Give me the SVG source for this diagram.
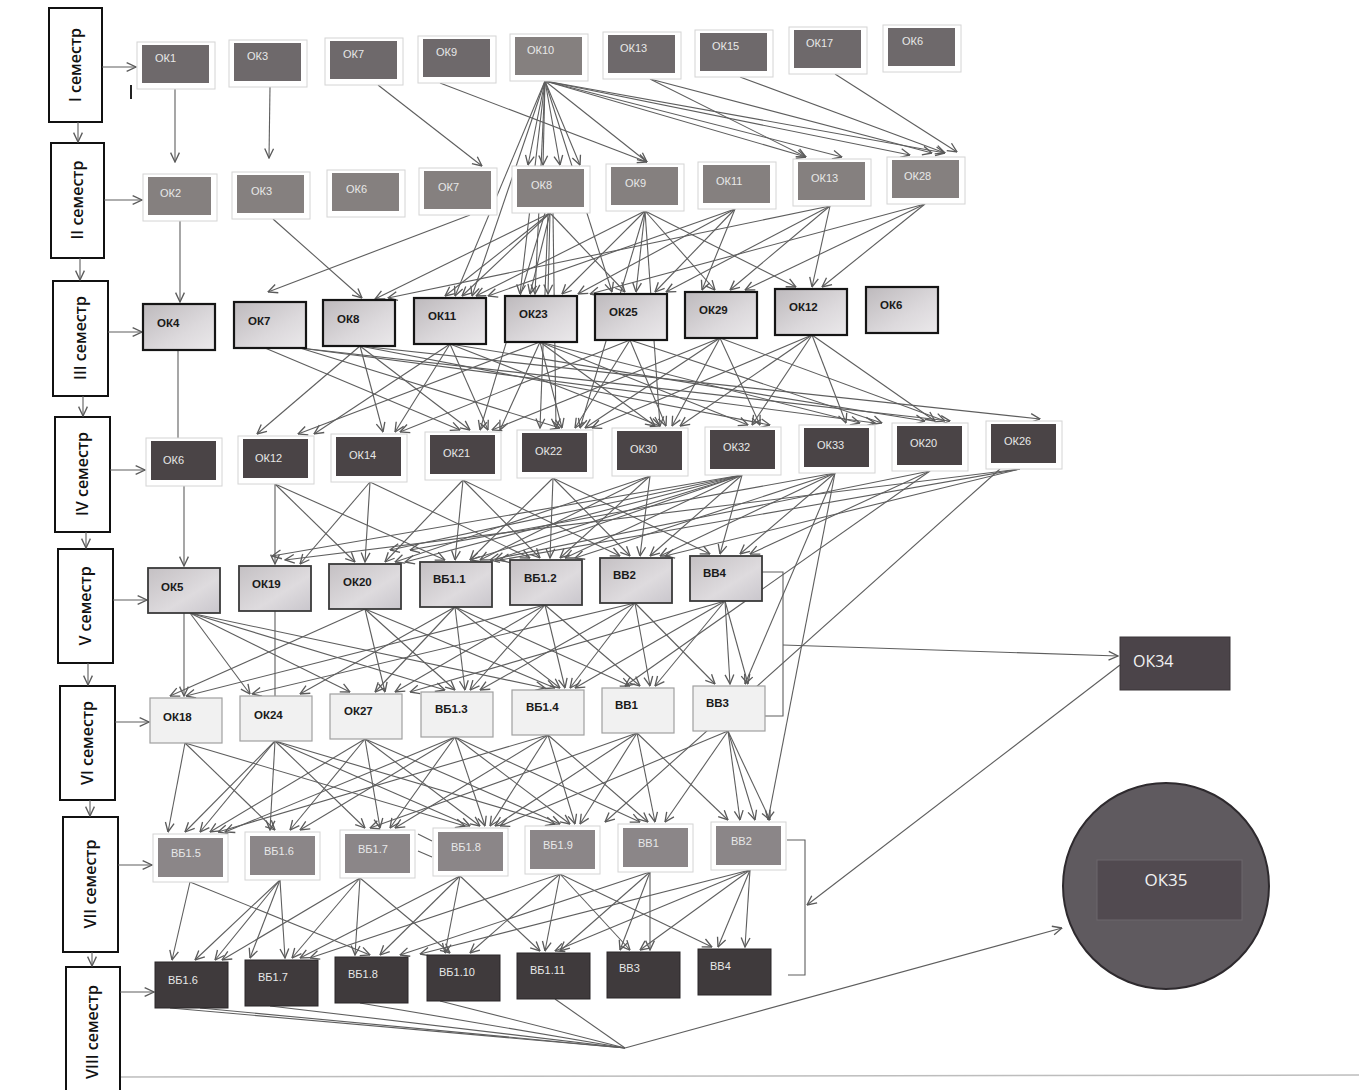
<svg xmlns="http://www.w3.org/2000/svg" width="1359" height="1090" viewBox="0 0 1359 1090">
<defs>
<marker id="a" viewBox="0 0 10 10" refX="9.5" refY="5" markerWidth="11" markerHeight="11" orient="auto" markerUnits="userSpaceOnUse"><path d="M1,1 L9.5,5 L1,9" fill="none" stroke="#5a5a5a" stroke-width="1.2"/></marker>
<linearGradient id="g3" x1="0" y1="0" x2="1" y2="1"><stop offset="0" stop-color="#bdb9bc"/><stop offset="0.6" stop-color="#dcd9dc"/><stop offset="1" stop-color="#ebe9eb"/></linearGradient>
<linearGradient id="g5" x1="0" y1="0" x2="1" y2="1"><stop offset="0" stop-color="#c4c0c3"/><stop offset="0.6" stop-color="#dedbde"/><stop offset="1" stop-color="#c9c6cc"/></linearGradient>
</defs>
<style>
.sem{fill:#fff;stroke:#111;stroke-width:2}
.st{font-family:"Open Sans","Liberation Sans",sans-serif;font-size:16px;font-weight:600;fill:#111}
.fr{fill:#fff;stroke:#d4d4d4;stroke-width:1}
.i1{fill:#6e696b}
.i2{fill:#85807f}
.r3{fill:url(#g3);stroke:#151515;stroke-width:2.2}
.i4{fill:#4a4446}
.r5{fill:url(#g5);stroke:#3a3a3a;stroke-width:1.8}
.r6{fill:#f1f1f1;stroke:#a0a0a0;stroke-width:1.2}
.i7{fill:#8b8688}
.r8{fill:#3f3a3c;stroke:#2a2628;stroke-width:1}
.lw{font-family:"Liberation Sans",sans-serif;font-size:11px;fill:#e8e8e8}
.lb{font-family:"Liberation Sans",sans-serif;font-size:11.5px;font-weight:bold;fill:#1a1a1a}
.c line{stroke:#5e5e5e;stroke-width:1.1;marker-end:url(#a)}
.c line.n{marker-end:none}
.c path{fill:none;stroke:#5e5e5e;stroke-width:1.1}
</style>
<rect width="1359" height="1090" fill="#fff"/>
<line x1="120" y1="1077" x2="1359" y2="1075" stroke="#bdbdbd" stroke-width="1.5"/>
<line x1="131" y1="85" x2="131" y2="99" stroke="#222" stroke-width="2"/>

<g id="semesters">
<g id="sem1"><rect class="sem" x="49" y="8" width="53" height="114"/><text class="st" transform="translate(81,65) rotate(-90)" text-anchor="middle">I семестр</text></g>
<g id="sem2"><rect class="sem" x="51" y="143" width="53" height="115"/><text class="st" transform="translate(83,200) rotate(-90)" text-anchor="middle">II семестр</text></g>
<g id="sem3"><rect class="sem" x="53" y="281" width="55" height="115"/><text class="st" transform="translate(86,338) rotate(-90)" text-anchor="middle">III семестр</text></g>
<g id="sem4"><rect class="sem" x="55" y="417" width="55" height="115"/><text class="st" transform="translate(88,474) rotate(-90)" text-anchor="middle">IV семестр</text></g>
<g id="sem5"><rect class="sem" x="58" y="549" width="55" height="114"/><text class="st" transform="translate(91,606) rotate(-90)" text-anchor="middle">V семестр</text></g>
<g id="sem6"><rect class="sem" x="60" y="686" width="55" height="114"/><text class="st" transform="translate(93,743) rotate(-90)" text-anchor="middle">VI семестр</text></g>
<g id="sem7"><rect class="sem" x="63" y="817" width="55" height="135"/><text class="st" transform="translate(96,884) rotate(-90)" text-anchor="middle">VII семестр</text></g>
<g id="sem8"><rect class="sem" x="66" y="967" width="54" height="130"/><text class="st" transform="translate(98,1032) rotate(-90)" text-anchor="middle">VIII семестр</text></g>
</g>

<g id="connectors" class="c">
<line x1="102" y1="67" x2="136" y2="67"/>
<line x1="78" y1="122" x2="78" y2="142"/>
<line x1="104" y1="200" x2="142" y2="200"/>
<line x1="80" y1="258" x2="80" y2="280"/>
<line x1="108" y1="332" x2="142" y2="332"/>
<line x1="83" y1="396" x2="83" y2="416"/>
<line x1="110" y1="470" x2="145" y2="470"/>
<line x1="86" y1="532" x2="86" y2="548"/>
<line x1="113" y1="600" x2="147" y2="600"/>
<line x1="88" y1="663" x2="88" y2="685"/>
<line x1="115" y1="722" x2="149" y2="722"/>
<line x1="90" y1="800" x2="90" y2="816"/>
<line x1="118" y1="865" x2="152" y2="865"/>
<line x1="92" y1="952" x2="92" y2="966"/>
<line x1="120" y1="992" x2="154" y2="992"/>

<line x1="175" y1="89" x2="175" y2="162"/>
<line x1="270" y1="87" x2="269" y2="158"/>
<line x1="378" y1="85" x2="482" y2="166"/>
<line x1="440" y1="83" x2="647" y2="162"/>
<line x1="545" y1="81" x2="647" y2="162"/>
<line x1="545" y1="81" x2="806" y2="157"/>
<line x1="545" y1="81" x2="842" y2="157"/>
<line x1="545" y1="81" x2="910" y2="155"/>
<line x1="545" y1="81" x2="945" y2="153"/>
<line x1="545" y1="81" x2="528" y2="165"/>
<line x1="545" y1="81" x2="543" y2="165"/>
<line x1="545" y1="81" x2="560" y2="165"/>
<line x1="545" y1="81" x2="580" y2="165"/>
<line x1="545" y1="81" x2="455" y2="296"/>
<line x1="545" y1="81" x2="472" y2="296"/>
<line x1="545" y1="81" x2="520" y2="294"/>
<line x1="545" y1="81" x2="535" y2="294"/>
<line x1="545" y1="81" x2="612" y2="292"/>
<line x1="650" y1="79" x2="806" y2="157"/>
<line x1="650" y1="79" x2="932" y2="153"/>
<line x1="740" y1="77" x2="945" y2="153"/>
<line x1="835" y1="74" x2="957" y2="152"/>

<line x1="180" y1="221" x2="180" y2="302"/>
<line x1="273" y1="219" x2="362" y2="298"/>
<line x1="470" y1="215" x2="268" y2="292"/>
<line x1="550" y1="213" x2="445" y2="296"/>
<line x1="550" y1="213" x2="462" y2="296"/>
<line x1="550" y1="213" x2="530" y2="294"/>
<line x1="550" y1="213" x2="548" y2="294"/>
<line x1="550" y1="213" x2="625" y2="292"/>
<line x1="550" y1="213" x2="375" y2="299"/>
<line x1="545" y1="213" x2="480" y2="430"/>
<line x1="548" y1="213" x2="540" y2="428"/>
<line x1="553" y1="213" x2="556" y2="428"/>
<line x1="645" y1="211" x2="476" y2="296"/>
<line x1="645" y1="211" x2="562" y2="294"/>
<line x1="645" y1="211" x2="636" y2="292"/>
<line x1="645" y1="211" x2="715" y2="290"/>
<line x1="645" y1="211" x2="796" y2="287"/>
<line x1="645" y1="211" x2="660" y2="426"/>
<line x1="645" y1="211" x2="580" y2="428"/>
<line x1="735" y1="209" x2="702" y2="290"/>
<line x1="735" y1="209" x2="655" y2="292"/>
<line x1="735" y1="209" x2="578" y2="294"/>
<line x1="735" y1="209" x2="488" y2="296"/>
<line x1="830" y1="206" x2="730" y2="290"/>
<line x1="830" y1="206" x2="812" y2="287"/>
<line x1="830" y1="206" x2="388" y2="298"/>
<line x1="830" y1="206" x2="666" y2="292"/>
<line x1="925" y1="204" x2="822" y2="287"/>
<line x1="925" y1="204" x2="745" y2="290"/>
<line x1="925" y1="204" x2="590" y2="294"/>

<line class="n" x1="178" y1="350" x2="178" y2="438"/>
<line x1="265" y1="348" x2="460" y2="430"/>
<line x1="300" y1="348" x2="875" y2="423"/>
<line x1="300" y1="348" x2="560" y2="428"/>
<line x1="300" y1="348" x2="950" y2="421"/>
<line x1="360" y1="346" x2="257" y2="434"/>
<line x1="360" y1="346" x2="383" y2="432"/>
<line x1="360" y1="346" x2="470" y2="430"/>
<line x1="360" y1="346" x2="1040" y2="419"/>
<line x1="360" y1="346" x2="770" y2="425"/>
<line x1="450" y1="344" x2="314" y2="434"/>
<line x1="450" y1="344" x2="395" y2="432"/>
<line x1="450" y1="344" x2="488" y2="430"/>
<line x1="450" y1="344" x2="660" y2="426"/>
<line x1="450" y1="344" x2="925" y2="421"/>
<line x1="540" y1="342" x2="298" y2="434"/>
<line x1="540" y1="342" x2="500" y2="430"/>
<line x1="540" y1="342" x2="562" y2="428"/>
<line x1="540" y1="342" x2="655" y2="426"/>
<line x1="540" y1="342" x2="748" y2="425"/>
<line x1="540" y1="342" x2="860" y2="423"/>
<line x1="630" y1="340" x2="400" y2="432"/>
<line x1="630" y1="340" x2="575" y2="428"/>
<line x1="630" y1="340" x2="666" y2="426"/>
<line x1="630" y1="340" x2="882" y2="423"/>
<line x1="720" y1="338" x2="492" y2="430"/>
<line x1="720" y1="338" x2="585" y2="428"/>
<line x1="720" y1="338" x2="672" y2="426"/>
<line x1="720" y1="338" x2="760" y2="425"/>
<line x1="720" y1="338" x2="945" y2="421"/>
<line x1="812" y1="335" x2="592" y2="428"/>
<line x1="812" y1="335" x2="680" y2="426"/>
<line x1="812" y1="335" x2="752" y2="425"/>
<line x1="812" y1="335" x2="846" y2="423"/>
<line x1="812" y1="335" x2="935" y2="421"/>

<line x1="184" y1="486" x2="184" y2="566"/>
<line x1="275" y1="484" x2="275" y2="564"/>
<line x1="275" y1="484" x2="355" y2="562"/>
<line x1="275" y1="484" x2="445" y2="560"/>
<line x1="370" y1="482" x2="300" y2="564"/>
<line x1="370" y1="482" x2="365" y2="562"/>
<line x1="370" y1="482" x2="530" y2="558"/>
<line x1="463" y1="480" x2="455" y2="560"/>
<line x1="463" y1="480" x2="540" y2="558"/>
<line x1="463" y1="480" x2="385" y2="562"/>
<line x1="463" y1="480" x2="620" y2="556"/>
<line x1="553" y1="478" x2="470" y2="560"/>
<line x1="553" y1="478" x2="550" y2="558"/>
<line x1="553" y1="478" x2="630" y2="556"/>
<line x1="553" y1="478" x2="710" y2="554"/>
<line x1="650" y1="476" x2="560" y2="558"/>
<line x1="650" y1="476" x2="640" y2="556"/>
<line x1="650" y1="476" x2="480" y2="560"/>
<line x1="650" y1="476" x2="395" y2="562"/>
<line x1="742" y1="475" x2="272" y2="556"/>
<line x1="742" y1="475" x2="390" y2="550"/>
<line x1="742" y1="475" x2="470" y2="560"/>
<line x1="742" y1="475" x2="565" y2="558"/>
<line x1="742" y1="475" x2="650" y2="556"/>
<line x1="742" y1="475" x2="720" y2="554"/>
<line x1="742" y1="475" x2="405" y2="562"/>
<line x1="742" y1="475" x2="495" y2="560"/>
<line x1="835" y1="473" x2="740" y2="554"/>
<line x1="835" y1="473" x2="660" y2="556"/>
<line x1="835" y1="473" x2="575" y2="558"/>
<line x1="835" y1="473" x2="410" y2="550"/>
<line x1="835" y1="473" x2="745" y2="684"/>
<line x1="835" y1="473" x2="768" y2="820"/>
<line x1="930" y1="471" x2="750" y2="554"/>
<line x1="930" y1="471" x2="490" y2="560"/>
<line x1="930" y1="471" x2="625" y2="686"/>
<line x1="1020" y1="469" x2="285" y2="560"/>
<line x1="1020" y1="469" x2="500" y2="560"/>
<line x1="1020" y1="469" x2="665" y2="556"/>
<line x1="1000" y1="469" x2="605" y2="822"/>

<line x1="184" y1="613" x2="184" y2="696"/>
<line x1="190" y1="613" x2="250" y2="694"/>
<line x1="190" y1="613" x2="350" y2="692"/>
<line x1="190" y1="613" x2="445" y2="690"/>
<line x1="190" y1="613" x2="545" y2="688"/>
<line class="n" x1="275" y1="611" x2="275" y2="696"/>
<line x1="365" y1="609" x2="170" y2="696"/>
<line x1="365" y1="609" x2="385" y2="692"/>
<line x1="365" y1="609" x2="455" y2="690"/>
<line x1="365" y1="609" x2="555" y2="688"/>
<line x1="455" y1="607" x2="300" y2="694"/>
<line x1="455" y1="607" x2="375" y2="692"/>
<line x1="455" y1="607" x2="465" y2="690"/>
<line x1="455" y1="607" x2="560" y2="688"/>
<line x1="455" y1="607" x2="630" y2="686"/>
<line x1="545" y1="605" x2="395" y2="692"/>
<line x1="545" y1="605" x2="470" y2="690"/>
<line x1="545" y1="605" x2="565" y2="688"/>
<line x1="545" y1="605" x2="640" y2="686"/>
<line x1="545" y1="605" x2="186" y2="696"/>
<line x1="635" y1="603" x2="480" y2="690"/>
<line x1="635" y1="603" x2="570" y2="688"/>
<line x1="635" y1="603" x2="650" y2="686"/>
<line x1="635" y1="603" x2="715" y2="684"/>
<line x1="635" y1="603" x2="252" y2="694"/>
<line x1="725" y1="601" x2="655" y2="686"/>
<line x1="725" y1="601" x2="730" y2="684"/>
<line x1="725" y1="601" x2="575" y2="688"/>
<line x1="725" y1="601" x2="748" y2="684"/>
<line x1="725" y1="601" x2="410" y2="692"/>

<line x1="185" y1="743" x2="168" y2="832"/>
<line x1="185" y1="743" x2="275" y2="830"/>
<line x1="185" y1="743" x2="465" y2="826"/>
<line x1="275" y1="741" x2="185" y2="832"/>
<line x1="275" y1="741" x2="200" y2="832"/>
<line x1="275" y1="741" x2="270" y2="830"/>
<line x1="275" y1="741" x2="365" y2="828"/>
<line x1="275" y1="741" x2="470" y2="826"/>
<line x1="275" y1="741" x2="555" y2="824"/>
<line x1="365" y1="739" x2="210" y2="832"/>
<line x1="365" y1="739" x2="290" y2="830"/>
<line x1="365" y1="739" x2="380" y2="828"/>
<line x1="365" y1="739" x2="480" y2="826"/>
<line x1="365" y1="739" x2="560" y2="824"/>
<line x1="455" y1="737" x2="300" y2="830"/>
<line x1="455" y1="737" x2="390" y2="828"/>
<line x1="455" y1="737" x2="485" y2="826"/>
<line x1="455" y1="737" x2="570" y2="824"/>
<line x1="455" y1="737" x2="640" y2="822"/>
<line x1="455" y1="737" x2="225" y2="832"/>
<line x1="548" y1="735" x2="395" y2="828"/>
<line x1="548" y1="735" x2="490" y2="826"/>
<line x1="548" y1="735" x2="575" y2="824"/>
<line x1="548" y1="735" x2="648" y2="822"/>
<line x1="548" y1="735" x2="218" y2="832"/>
<line x1="637" y1="733" x2="495" y2="826"/>
<line x1="637" y1="733" x2="580" y2="824"/>
<line x1="637" y1="733" x2="655" y2="822"/>
<line x1="637" y1="733" x2="728" y2="820"/>
<line x1="637" y1="733" x2="370" y2="828"/>
<line x1="728" y1="731" x2="665" y2="822"/>
<line x1="728" y1="731" x2="740" y2="820"/>
<line x1="728" y1="731" x2="755" y2="820"/>
<line x1="728" y1="731" x2="770" y2="820"/>
<line x1="728" y1="731" x2="500" y2="826"/>

<line x1="190" y1="882" x2="172" y2="960"/>
<line x1="190" y1="882" x2="370" y2="955"/>
<line x1="280" y1="880" x2="195" y2="960"/>
<line x1="280" y1="880" x2="215" y2="960"/>
<line x1="280" y1="880" x2="250" y2="958"/>
<line x1="280" y1="880" x2="285" y2="958"/>
<line x1="360" y1="878" x2="355" y2="955"/>
<line x1="360" y1="878" x2="292" y2="958"/>
<line x1="360" y1="878" x2="450" y2="953"/>
<line x1="360" y1="878" x2="222" y2="960"/>
<line x1="460" y1="876" x2="445" y2="953"/>
<line x1="460" y1="876" x2="300" y2="958"/>
<line x1="460" y1="876" x2="380" y2="955"/>
<line x1="460" y1="876" x2="540" y2="951"/>
<line x1="560" y1="874" x2="470" y2="953"/>
<line x1="560" y1="874" x2="545" y2="951"/>
<line x1="560" y1="874" x2="630" y2="950"/>
<line x1="560" y1="874" x2="712" y2="947"/>
<line x1="560" y1="874" x2="310" y2="958"/>
<line x1="650" y1="872" x2="560" y2="951"/>
<line x1="650" y1="872" x2="620" y2="950"/>
<line x1="650" y1="872" x2="650" y2="950"/>
<line x1="650" y1="872" x2="400" y2="955"/>
<line x1="750" y1="870" x2="718" y2="947"/>
<line x1="750" y1="870" x2="745" y2="947"/>
<line x1="750" y1="870" x2="555" y2="951"/>
<line x1="750" y1="870" x2="640" y2="950"/>
<line x1="750" y1="870" x2="420" y2="954"/>

<line class="n" x1="418" y1="834" x2="432" y2="841"/>
<line class="n" x1="418" y1="851" x2="432" y2="857"/>

<line class="n" x1="170" y1="1008" x2="625" y2="1048"/>
<line class="n" x1="200" y1="1008" x2="625" y2="1048"/>
<line class="n" x1="270" y1="1006" x2="625" y2="1048"/>
<line class="n" x1="360" y1="1003" x2="625" y2="1048"/>
<line class="n" x1="440" y1="1001" x2="625" y2="1048"/>
<line class="n" x1="555" y1="999" x2="625" y2="1048"/>
<line x1="625" y1="1048" x2="1062" y2="928"/>

<path d="M762,572 L783,572 L783,716 L765,716"/>
<line x1="783" y1="645" x2="1118" y2="656"/>
<path d="M787,840 L805,840 L805,975 L788,975"/>
<line x1="1120" y1="665" x2="807" y2="905"/>
</g>

<g id="row1">
<g id="r1-ok1"><rect class="fr" x="137" y="42" width="78" height="47"/><rect class="i1" x="142" y="45" width="67" height="38"/><text class="lw" x="155" y="62">ОК1</text></g>
<g id="r1-ok3"><rect class="fr" x="229" y="40" width="78" height="47"/><rect class="i1" x="234" y="43" width="67" height="38"/><text class="lw" x="247" y="60">ОК3</text></g>
<g id="r1-ok7"><rect class="fr" x="325" y="38" width="78" height="47"/><rect class="i1" x="330" y="41" width="67" height="38"/><text class="lw" x="343" y="58">ОК7</text></g>
<g id="r1-ok9"><rect class="fr" x="418" y="36" width="78" height="47"/><rect class="i1" x="423" y="39" width="67" height="38"/><text class="lw" x="436" y="56">ОК9</text></g>
<g id="r1-ok10"><rect class="fr" x="510" y="34" width="78" height="47"/><rect class="i2" x="515" y="37" width="67" height="38"/><text class="lw" x="527" y="54">ОК10</text></g>
<g id="r1-ok13"><rect class="fr" x="603" y="32" width="78" height="47"/><rect class="i1" x="608" y="35" width="67" height="38"/><text class="lw" x="620" y="52">ОК13</text></g>
<g id="r1-ok15"><rect class="fr" x="695" y="30" width="78" height="47"/><rect class="i1" x="700" y="33" width="67" height="38"/><text class="lw" x="712" y="50">ОК15</text></g>
<g id="r1-ok17"><rect class="fr" x="789" y="27" width="78" height="47"/><rect class="i1" x="794" y="30" width="67" height="38"/><text class="lw" x="806" y="47">ОК17</text></g>
<g id="r1-ok6"><rect class="fr" x="883" y="25" width="78" height="47"/><rect class="i1" x="888" y="28" width="67" height="38"/><text class="lw" x="902" y="45">ОК6</text></g>
</g>

<g id="row2">
<g id="r2-ok2"><rect class="fr" x="143" y="174" width="74" height="47"/><rect class="i2" x="148" y="177" width="63" height="38"/><text class="lw" x="160" y="197">ОК2</text></g>
<g id="r2-ok3"><rect class="fr" x="232" y="172" width="78" height="47"/><rect class="i2" x="237" y="175" width="67" height="38"/><text class="lw" x="251" y="195">ОК3</text></g>
<g id="r2-ok6"><rect class="fr" x="327" y="170" width="78" height="47"/><rect class="i2" x="332" y="173" width="67" height="38"/><text class="lw" x="346" y="193">ОК6</text></g>
<g id="r2-ok7"><rect class="fr" x="419" y="168" width="78" height="47"/><rect class="i2" x="424" y="171" width="67" height="38"/><text class="lw" x="438" y="191">ОК7</text></g>
<g id="r2-ok8"><rect class="fr" x="512" y="166" width="78" height="47"/><rect class="i2" x="517" y="169" width="67" height="38"/><text class="lw" x="531" y="189">ОК8</text></g>
<g id="r2-ok9"><rect class="fr" x="606" y="164" width="78" height="47"/><rect class="i2" x="611" y="167" width="67" height="38"/><text class="lw" x="625" y="187">ОК9</text></g>
<g id="r2-ok11"><rect class="fr" x="698" y="162" width="78" height="47"/><rect class="i2" x="703" y="165" width="67" height="38"/><text class="lw" x="716" y="185">ОК11</text></g>
<g id="r2-ok13"><rect class="fr" x="793" y="159" width="78" height="47"/><rect class="i2" x="798" y="162" width="67" height="38"/><text class="lw" x="811" y="182">ОК13</text></g>
<g id="r2-ok28"><rect class="fr" x="887" y="157" width="78" height="47"/><rect class="i2" x="892" y="160" width="67" height="38"/><text class="lw" x="904" y="180">ОК28</text></g>
</g>

<g id="row3">
<g id="r3-ok4"><rect class="r3" x="143" y="304" width="72" height="46"/><text class="lb" x="157" y="327">ОК4</text></g>
<g id="r3-ok7"><rect class="r3" x="234" y="302" width="72" height="46"/><text class="lb" x="248" y="325">ОК7</text></g>
<g id="r3-ok8"><rect class="r3" x="323" y="300" width="72" height="46"/><text class="lb" x="337" y="323">ОК8</text></g>
<g id="r3-ok11"><rect class="r3" x="414" y="298" width="72" height="46"/><text class="lb" x="428" y="320">ОК11</text></g>
<g id="r3-ok23"><rect class="r3" x="505" y="296" width="72" height="46"/><text class="lb" x="519" y="318">ОК23</text></g>
<g id="r3-ok25"><rect class="r3" x="595" y="294" width="72" height="46"/><text class="lb" x="609" y="316">ОК25</text></g>
<g id="r3-ok29"><rect class="r3" x="685" y="292" width="72" height="46"/><text class="lb" x="699" y="314">ОК29</text></g>
<g id="r3-ok12"><rect class="r3" x="775" y="289" width="72" height="46"/><text class="lb" x="789" y="311">ОК12</text></g>
<g id="r3-ok6"><rect class="r3" x="866" y="287" width="72" height="46"/><text class="lb" x="880" y="309">ОК6</text></g>
</g>

<g id="row4">
<g id="r4-ok6"><rect class="fr" x="146" y="438" width="76" height="48"/><rect class="i4" x="151" y="441" width="65" height="39"/><text class="lw" x="163" y="464">ОК6</text></g>
<g id="r4-ok12"><rect class="fr" x="238" y="436" width="76" height="48"/><rect class="i4" x="243" y="439" width="65" height="39"/><text class="lw" x="255" y="462">ОК12</text></g>
<g id="r4-ok14"><rect class="fr" x="331" y="434" width="76" height="48"/><rect class="i4" x="336" y="437" width="65" height="39"/><text class="lw" x="349" y="459">ОК14</text></g>
<g id="r4-ok21"><rect class="fr" x="425" y="432" width="76" height="48"/><rect class="i4" x="430" y="435" width="65" height="39"/><text class="lw" x="443" y="457">ОК21</text></g>
<g id="r4-ok22"><rect class="fr" x="517" y="430" width="76" height="48"/><rect class="i4" x="522" y="433" width="65" height="39"/><text class="lw" x="535" y="455">ОК22</text></g>
<g id="r4-ok30"><rect class="fr" x="612" y="428" width="76" height="48"/><rect class="i4" x="617" y="431" width="65" height="39"/><text class="lw" x="630" y="453">ОК30</text></g>
<g id="r4-ok32"><rect class="fr" x="705" y="427" width="76" height="48"/><rect class="i4" x="710" y="430" width="65" height="39"/><text class="lw" x="723" y="451">ОК32</text></g>
<g id="r4-ok33"><rect class="fr" x="799" y="425" width="76" height="48"/><rect class="i4" x="804" y="428" width="65" height="39"/><text class="lw" x="817" y="449">ОК33</text></g>
<g id="r4-ok20"><rect class="fr" x="892" y="423" width="76" height="48"/><rect class="i4" x="897" y="426" width="65" height="39"/><text class="lw" x="910" y="447">ОК20</text></g>
<g id="r4-ok26"><rect class="fr" x="986" y="421" width="76" height="48"/><rect class="i4" x="991" y="424" width="65" height="39"/><text class="lw" x="1004" y="445">ОК26</text></g>
</g>

<g id="row5">
<g id="r5-ok5"><rect class="r5" x="148" y="568" width="72" height="45"/><text class="lb" x="161" y="591">ОК5</text></g>
<g id="r5-ok19"><rect class="r5" x="239" y="566" width="72" height="45"/><text class="lb" x="252" y="588">ОК19</text></g>
<g id="r5-ok20"><rect class="r5" x="329" y="564" width="72" height="45"/><text class="lb" x="343" y="586">ОК20</text></g>
<g id="r5-vb11"><rect class="r5" x="420" y="562" width="72" height="45"/><text class="lb" x="433" y="583">ВБ1.1</text></g>
<g id="r5-vb12"><rect class="r5" x="510" y="560" width="72" height="45"/><text class="lb" x="524" y="582">ВБ1.2</text></g>
<g id="r5-vv2"><rect class="r5" x="600" y="558" width="72" height="45"/><text class="lb" x="613" y="579">ВВ2</text></g>
<g id="r5-vv4"><rect class="r5" x="690" y="556" width="72" height="45"/><text class="lb" x="703" y="577">ВВ4</text></g>
</g>

<g id="row6">
<g id="r6-ok18"><rect class="r6" x="150" y="698" width="72" height="45"/><text class="lb" x="163" y="721">ОК18</text></g>
<g id="r6-ok24"><rect class="r6" x="240" y="696" width="72" height="45"/><text class="lb" x="254" y="719">ОК24</text></g>
<g id="r6-ok27"><rect class="r6" x="330" y="694" width="72" height="45"/><text class="lb" x="344" y="715">ОК27</text></g>
<g id="r6-vb13"><rect class="r6" x="421" y="692" width="72" height="45"/><text class="lb" x="435" y="713">ВБ1.3</text></g>
<g id="r6-vb14"><rect class="r6" x="512" y="690" width="72" height="45"/><text class="lb" x="526" y="711">ВБ1.4</text></g>
<g id="r6-vv1"><rect class="r6" x="602" y="688" width="72" height="45"/><text class="lb" x="615" y="709">ВВ1</text></g>
<g id="r6-vv3"><rect class="r6" x="693" y="686" width="72" height="45"/><text class="lb" x="706" y="707">ВВ3</text></g>
</g>

<g id="row7">
<g id="r7-vb15"><rect class="fr" x="153" y="834" width="75" height="48"/><rect class="i7" x="158" y="838" width="65" height="39"/><text class="lw" x="171" y="857">ВБ1.5</text></g>
<g id="r7-vb16"><rect class="fr" x="245" y="832" width="75" height="48"/><rect class="i7" x="250" y="836" width="65" height="39"/><text class="lw" x="264" y="855">ВБ1.6</text></g>
<g id="r7-vb17"><rect class="fr" x="340" y="830" width="75" height="48"/><rect class="i7" x="345" y="834" width="65" height="39"/><text class="lw" x="358" y="853">ВБ1.7</text></g>
<g id="r7-vb18"><rect class="fr" x="433" y="828" width="75" height="48"/><rect class="i7" x="438" y="832" width="65" height="39"/><text class="lw" x="451" y="851">ВБ1.8</text></g>
<g id="r7-vb19"><rect class="fr" x="525" y="826" width="75" height="48"/><rect class="i7" x="530" y="830" width="65" height="39"/><text class="lw" x="543" y="849">ВБ1.9</text></g>
<g id="r7-vv1"><rect class="fr" x="618" y="824" width="75" height="48"/><rect class="i7" x="623" y="828" width="65" height="39"/><text class="lw" x="638" y="847">ВВ1</text></g>
<g id="r7-vv2"><rect class="fr" x="711" y="822" width="75" height="48"/><rect class="i7" x="716" y="826" width="65" height="39"/><text class="lw" x="731" y="845">ВВ2</text></g>
</g>

<g id="row8">
<g id="r8-vb16"><rect class="r8" x="155" y="962" width="73" height="46"/><text class="lw" x="168" y="984">ВБ1.6</text></g>
<g id="r8-vb17"><rect class="r8" x="245" y="960" width="73" height="46"/><text class="lw" x="258" y="981">ВБ1.7</text></g>
<g id="r8-vb18"><rect class="r8" x="335" y="957" width="73" height="46"/><text class="lw" x="348" y="978">ВБ1.8</text></g>
<g id="r8-vb110"><rect class="r8" x="427" y="955" width="73" height="46"/><text class="lw" x="439" y="976">ВБ1.10</text></g>
<g id="r8-vb111"><rect class="r8" x="517" y="953" width="73" height="46"/><text class="lw" x="530" y="974">ВБ1.11</text></g>
<g id="r8-vv3"><rect class="r8" x="607" y="952" width="73" height="46"/><text class="lw" x="619" y="972">ВВ3</text></g>
<g id="r8-vv4"><rect class="r8" x="698" y="949" width="73" height="46"/><text class="lw" x="710" y="970">ВВ4</text></g>
</g>

<g id="ok34"><rect x="1120" y="637" width="110" height="53" fill="#4b4449" stroke="#3a3438" stroke-width="1"/><text x="1133" y="667" font-family="Open Sans,Liberation Sans,sans-serif" font-size="16" fill="#f2f2f2">ОК34</text></g>
<g id="ok35"><circle cx="1166" cy="886" r="103" fill="#5f5a5f" stroke="#2e2a2e" stroke-width="2"/><rect x="1097" y="860" width="145" height="60" fill="#514a50" stroke="#6d676c" stroke-width="1"/><text x="1166" y="886" text-anchor="middle" font-family="Open Sans,Liberation Sans,sans-serif" font-size="17" fill="#f2f2f2">ОК35</text></g>
</svg>
